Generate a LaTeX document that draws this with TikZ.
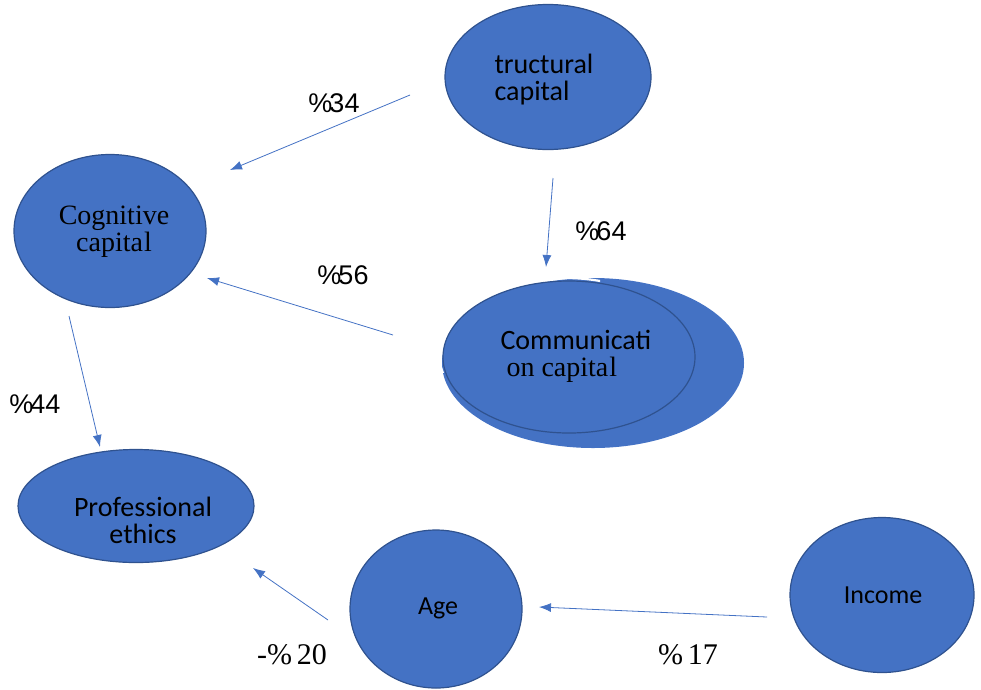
\documentclass[tikz,border=0pt]{standalone}
\usepackage{fontspec}
\setmainfont{Liberation Serif}
\newfontfamily\carlitofont{Carlito}
\newfontfamily\arialfont{Liberation Sans}
\usetikzlibrary{shapes.geometric,arrows.meta}
\definecolor{nodefill}{HTML}{4472C4}
\definecolor{nodeline}{HTML}{2F528F}
\definecolor{arrowc}{HTML}{4472C4}
\tikzset{
  ell/.style={ellipse, fill=nodefill, draw=nodeline, line width=1.2pt, inner sep=0pt},
  lbl/.style={font=\carlitofont\fontsize{28}{27}\selectfont, text=black, align=center},
  lblsm/.style={font=\carlitofont\fontsize{26}{26}\selectfont, text=black, align=center},
  serlbl/.style={font=\fontsize{28}{27}\selectfont, text=black, align=center},
  pct/.style={font=\arialfont\fontsize{27}{28}\selectfont, text=black},
  pctser/.style={font=\fontsize{30}{30}\selectfont, text=black},
  conn/.style={draw=arrowc, line width=0.8pt, -{Latex[length=12pt,width=9pt]}}
}
\newcommand{\pctk}[1]{\%\kern-3pt#1}
\begin{document}
\begin{tikzpicture}[x=1pt,y=-1pt]
\useasboundingbox (0,0) rectangle (981,689);
% nodes
\node[ell, minimum width=206pt, minimum height=145pt] (struct) at (548,77) {};
\node[lbl, align=left, anchor=west] (structt) at (491,80) {tructural\\capital};
\node[ell, minimum width=192pt, minimum height=153pt] (cog) at (110,231) {};
\node[serlbl] (cogt) at (114,232) {Cognitive\\capita{\kern1pt}l};
% communication
\node[ellipse, fill=nodefill, inner sep=0pt, minimum width=302pt, minimum height=170pt] (commback) at (593,363) {};
\begin{scope}
\clip (430,270) rectangle (600,372);
\node[ellipse, draw=white, line width=2.2pt, inner sep=0pt, minimum width=252pt, minimum height=152pt] (commwhite) at (565,354) {};
\end{scope}
\node[ell, minimum width=252pt, minimum height=152pt] (comm) at (569,357) {};
\node[lbl, align=left, anchor=west] (commt) at (497,356) {Communicati\\{\rmfamily\kern6pt on capita{\kern1pt}l}};
\node[ell, minimum width=236pt, minimum height=113pt] (prof) at (136,506) {};
\node[lbl] (proft) at (143,520) {Professional\\ethics};
\node[ell, minimum width=172pt, minimum height=158pt] (age) at (436,609) {};
\node[lblsm] (aget) at (438,608) {Age};
\node[ell, minimum width=184pt, minimum height=155pt] (inc) at (882,595) {};
\node[lblsm] (inct) at (883,595) {Income};
% connector ends
\coordinate (a1) at (410,95);  \coordinate (b1) at (230,170);
\coordinate (a2) at (553,178); \coordinate (b2) at (546,267);
\coordinate (a3) at (393,335); \coordinate (b3) at (207,278);
\coordinate (a4) at (69,316);  \coordinate (b4) at (100,447);
\coordinate (a5) at (328,620); \coordinate (b5) at (253,568);
\coordinate (a6) at (767,617); \coordinate (b6) at (539,607);
\draw[conn] (a1) -- (b1);
\draw[conn] (a2) -- (b2);
\draw[conn] (a3) -- (b3);
\draw[conn] (a4) -- (b4);
\draw[conn] (a5) -- (b5);
\draw[conn] (a6) -- (b6);
% labels
\node[pct] (l1) at (334,103) {\pctk{34}};
\node[pct] (l2) at (601,231) {\pctk{64}};
\node[pct] (l3) at (343,275) {\pctk{56}};
\node[pct] (l4) at (35,404) {\pctk{44}};
\node[pctser] (l5) at (292,655) {-\%\,20};
\node[pctser] (l6) at (688,655) {\%\,17};
\end{tikzpicture}
\end{document}
